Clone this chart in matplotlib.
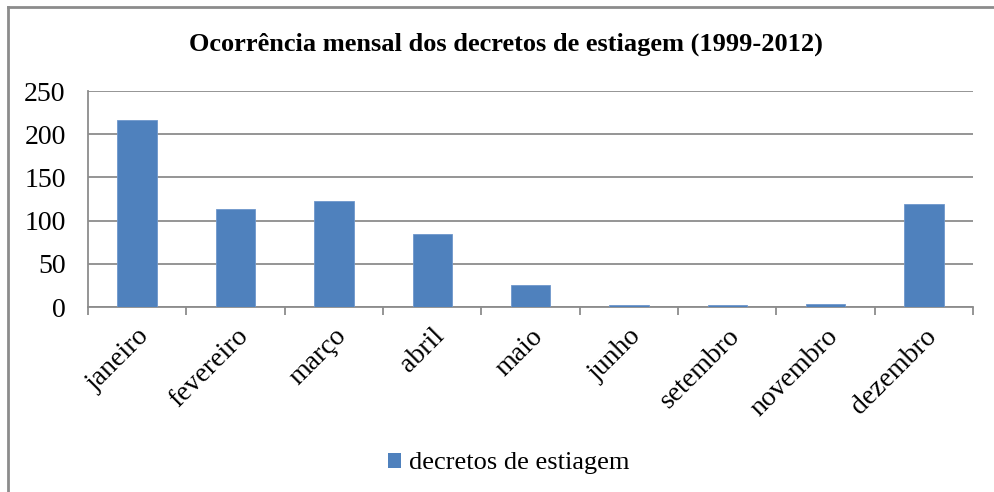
import numpy as np
import matplotlib.pyplot as plt
from matplotlib.lines import Line2D
from matplotlib.patches import Patch

meses = ['janeiro', 'fevereiro', 'março', 'abril', 'maio', 'junho',
         'setembro', 'novembro', 'dezembro']
decretos = [216, 113, 123, 85, 26, 2, 2, 3, 119]

plt.rcParams['font.family'] = ['Liberation Serif', 'DejaVu Serif']

fig = plt.figure(figsize=(9.94, 4.92), dpi=100)
ax = fig.add_axes([0.0885, 0.376, 0.8905, 0.439])

x = np.arange(len(meses))
ax.bar(x, decretos, width=0.4, color='#4f81bd', edgecolor='#6f97cc',
       linewidth=0.6, zorder=3, label='decretos de estiagem')

ax.set_xlim(-0.5, len(meses) - 0.5)
ax.set_ylim(0, 250)
ax.set_yticks(np.arange(0, 251, 50))
ax.yaxis.grid(True, color='#8c8c8c', linewidth=1.3, zorder=0)
ax.tick_params(axis='y', length=0, labelsize=20, pad=16)

ax.set_xticks(x)
ax.set_xticklabels(meses, rotation=45, ha='right', rotation_mode='anchor',
                   fontsize=20)
ax.tick_params(axis='x', length=0, pad=12)
ax.set_xticks(np.arange(-0.5, len(meses)), minor=True)
ax.tick_params(axis='x', which='minor', length=6, width=1.3, color='#8c8c8c')

for s in ['top', 'right']:
    ax.spines[s].set_visible(False)
for s in ['left', 'bottom']:
    ax.spines[s].set_color('#8c8c8c')
    ax.spines[s].set_linewidth(1.3)

fig.text(0.509, 0.91, 'Ocorrência mensal dos decretos de estiagem (1999-2012)',
         ha='center', va='center', fontsize=19, fontweight='bold')

fig.legend(handles=[Patch(facecolor='#4f81bd', label='decretos de estiagem')],
           loc='center', bbox_to_anchor=(0.512, 0.058), frameon=False,
           fontsize=19, handlelength=0.5, handleheight=0.5, handletextpad=0.3)

# moldura do grafico
fig.add_artist(Line2D([0.008, 0.008], [0, 0.985], transform=fig.transFigure,
                      color='#8c8c8c', linewidth=2))
fig.add_artist(Line2D([0.008, 1.0], [0.985, 0.985], transform=fig.transFigure,
                      color='#8c8c8c', linewidth=2))

fig.savefig('out.png', dpi=100)
